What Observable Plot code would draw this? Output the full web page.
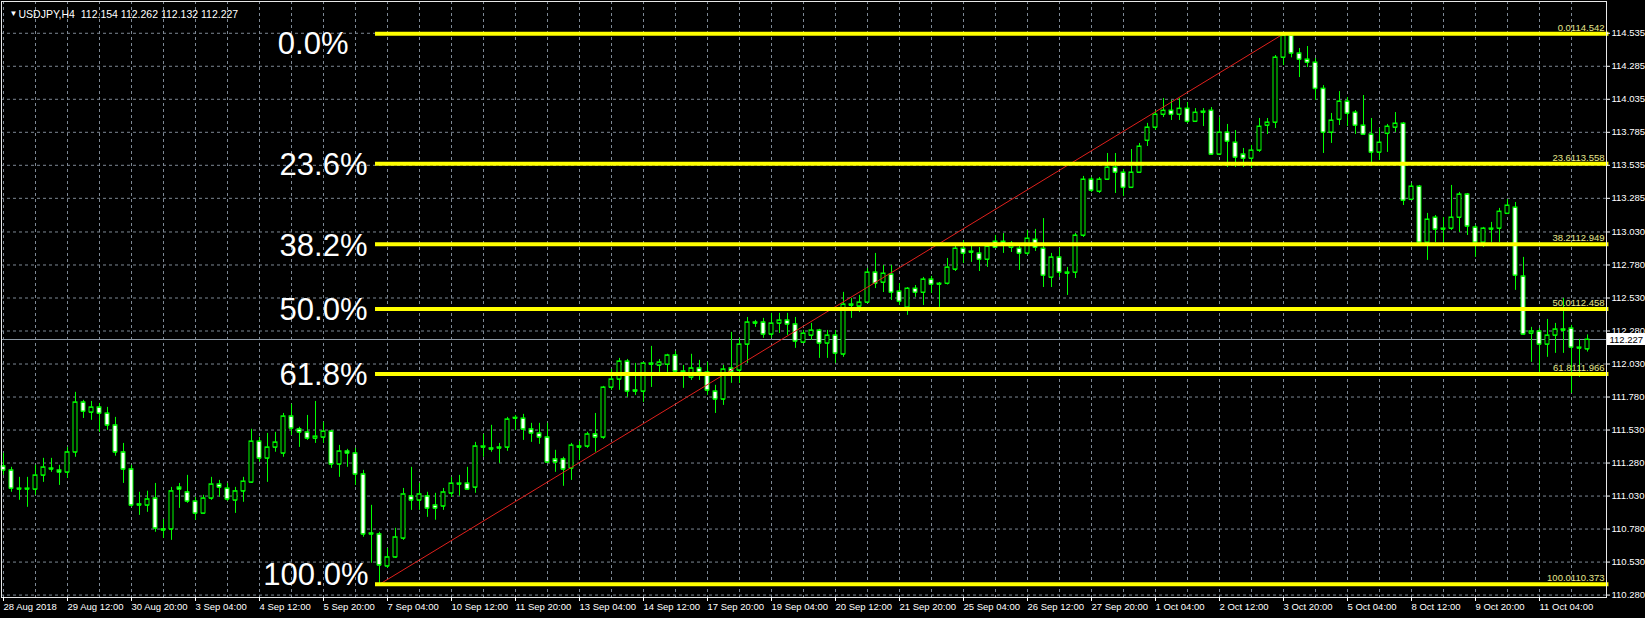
<!DOCTYPE html>
<html>
<head>
<meta charset="utf-8">
<script src="https://cdn.jsdelivr.net/npm/d3@7"></script>
<script src="https://cdn.jsdelivr.net/npm/@observablehq/plot@0.6"></script>
<style>
  html, body { margin: 0; padding: 0; background: #000; }
  #chart svg { display: block; }
</style>
</head>
<body>
<div id="chart"></div>
<script>
// USDJPY, 4-hour bars from 28 Aug 2018 to 12 Oct 2018
const symbol = "USDJPY,H4";

const opens = [
  111.267,111.236,111.099,111.092,111.092,111.198,111.251,111.236,111.221,111.373,
  111.751,111.675,111.713,111.667,111.577,111.373,111.244,110.979,110.971,111.024,
  110.790,110.790,111.107,111.070,111.001,110.910,111.024,111.130,111.099,111.009,
  111.078,111.145,111.455,111.327,111.410,111.365,111.645,111.547,111.524,111.478,
  111.486,111.531,111.282,111.380,111.365,111.206,110.759,110.752,110.510,110.578,
  110.721,111.040,111.009,111.040,110.971,110.964,111.062,111.137,111.137,111.107,
  111.410,111.403,111.410,111.410,111.629,111.629,111.547,111.516,111.486,111.320,
  111.320,111.251,111.418,111.418,111.509,111.486,111.864,111.925,112.061,111.842,
  111.834,112.046,112.031,112.038,112.107,111.986,111.940,112.009,111.978,111.834,
  111.774,112.009,111.993,112.190,112.357,112.357,112.266,112.349,112.372,112.342,
  112.205,112.258,112.296,112.198,112.258,112.115,112.493,112.478,112.508,112.735,
  112.659,112.720,112.591,112.470,112.613,112.583,112.682,112.651,112.651,112.758,
  112.916,112.886,112.879,112.833,112.969,112.969,112.924,112.916,112.879,112.984,
  112.916,112.697,112.849,112.735,112.735,113.015,113.439,113.348,113.439,113.530,
  113.492,113.378,113.492,113.734,113.833,113.931,113.961,113.931,113.976,113.878,
  113.954,113.961,113.629,113.795,113.719,113.629,113.598,113.659,113.848,113.871,
  114.363,114.529,114.394,114.348,114.325,114.127,113.795,113.893,114.030,113.946,
  113.848,113.780,113.644,113.787,113.833,113.863,113.287,113.386,112.962,113.151,
  113.061,113.068,113.151,113.326,113.076,112.962,113.068,113.068,113.181,113.227,
  112.705,112.273,112.289,112.190,112.258,112.304,112.311,112.160,112.154
];
const highs = [
  111.365,111.259,111.183,111.183,111.274,111.327,111.327,111.274,111.410,111.827,
  111.766,111.758,111.743,111.713,111.637,111.440,111.274,111.070,111.078,111.137,
  110.865,111.107,111.137,111.198,111.032,111.047,111.183,111.160,111.137,111.107,
  111.183,111.547,111.486,111.516,111.524,111.667,111.736,111.562,111.652,111.758,
  111.600,111.539,111.425,111.395,111.403,111.236,110.971,110.767,110.645,110.797,
  111.099,111.259,111.137,111.070,111.062,111.099,111.183,111.198,111.259,111.448,
  111.509,111.577,111.440,111.637,111.652,111.660,111.592,111.592,111.592,111.388,
  111.335,111.440,111.455,111.524,111.667,111.872,112.001,112.084,112.076,112.046,
  112.054,112.175,112.076,112.115,112.137,112.031,112.115,112.069,112.054,111.880,
  112.031,112.281,112.236,112.394,112.372,112.387,112.425,112.425,112.425,112.394,
  112.296,112.349,112.304,112.296,112.296,112.584,112.538,112.561,112.765,112.879,
  112.788,112.788,112.651,112.621,112.636,112.697,112.705,112.659,112.841,112.931,
  112.977,112.954,112.924,112.954,113.015,113.030,112.969,112.954,113.053,113.061,
  113.143,112.879,112.916,112.773,113.030,113.462,113.454,113.454,113.636,113.636,
  113.515,113.666,113.712,113.864,113.961,114.052,114.037,114.052,114.022,113.976,
  113.976,113.984,113.908,113.856,113.810,113.674,113.697,113.901,113.901,114.378,
  114.542,114.535,114.431,114.446,114.355,114.150,113.939,114.105,114.060,113.961,
  114.075,113.901,113.825,113.856,113.946,113.871,113.409,113.394,113.182,113.166,
  113.151,113.394,113.341,113.333,113.091,113.076,113.114,113.220,113.287,113.265,
  112.849,112.319,112.311,112.379,112.349,112.538,112.334,112.228,112.262
];
const lows = [
  111.198,111.070,111.009,110.956,111.047,111.145,111.221,111.122,111.175,111.335,
  111.629,111.615,111.524,111.539,111.343,111.137,110.956,110.895,110.918,110.767,
  110.721,110.706,110.948,110.986,110.858,110.903,111.009,111.032,111.001,110.910,
  110.994,111.137,111.297,111.145,111.373,111.335,111.501,111.410,111.463,111.440,
  111.440,111.251,111.183,111.259,111.122,110.729,110.532,110.373,110.494,110.570,
  110.706,110.933,110.933,110.880,110.858,110.933,111.032,111.040,111.085,111.062,
  111.335,111.373,111.289,111.380,111.539,111.463,111.448,111.433,111.289,111.221,
  111.115,111.160,111.312,111.403,111.373,111.471,111.842,111.842,111.789,111.804,
  111.751,111.864,111.978,111.978,111.955,111.857,111.917,111.917,111.804,111.667,
  111.728,111.895,111.895,112.046,112.319,112.236,112.236,112.273,112.258,112.160,
  112.198,112.220,112.084,112.084,112.046,112.092,112.387,112.432,112.500,112.613,
  112.583,112.523,112.485,112.410,112.546,112.485,112.576,112.470,112.640,112.742,
  112.803,112.811,112.742,112.773,112.916,112.879,112.886,112.750,112.864,112.894,
  112.621,112.621,112.697,112.561,112.689,113.000,113.341,113.333,113.431,113.333,
  113.310,113.371,113.485,113.689,113.810,113.908,113.886,113.886,113.863,113.871,
  113.840,113.621,113.621,113.530,113.530,113.530,113.522,113.644,113.780,113.825,
  114.302,114.360,114.211,114.287,114.037,113.636,113.712,113.848,113.840,113.780,
  113.772,113.568,113.583,113.644,113.795,113.242,113.280,112.954,112.826,112.962,
  112.962,113.053,113.038,113.015,112.849,112.924,112.962,112.962,113.174,112.599,
  112.258,112.054,111.978,112.092,112.122,112.122,111.819,111.940,112.132
];
const closes = [
  111.236,111.099,111.092,111.099,111.198,111.259,111.244,111.221,111.373,111.751,
  111.682,111.713,111.667,111.577,111.373,111.244,110.971,110.971,111.017,110.797,
  110.782,111.078,111.092,111.001,110.910,111.024,111.130,111.107,111.017,111.078,
  111.152,111.455,111.327,111.410,111.448,111.645,111.554,111.524,111.478,111.493,
  111.531,111.282,111.380,111.365,111.206,110.752,110.752,110.517,110.578,110.729,
  111.055,111.009,111.055,110.948,110.948,111.070,111.137,111.130,111.092,111.418,
  111.418,111.395,111.403,111.622,111.635,111.547,111.516,111.486,111.297,111.297,
  111.244,111.425,111.410,111.509,111.486,111.864,111.925,112.061,111.834,111.834,
  112.046,112.038,112.054,112.107,111.986,111.978,112.009,111.978,111.842,111.774,
  112.001,111.978,112.190,112.357,112.349,112.266,112.349,112.372,112.342,112.213,
  112.273,112.296,112.198,112.258,112.122,112.493,112.485,112.508,112.735,112.651,
  112.727,112.583,112.515,112.613,112.583,112.682,112.644,112.644,112.773,112.916,
  112.879,112.894,112.833,112.931,112.924,112.954,112.954,112.879,112.992,112.924,
  112.712,112.849,112.735,112.727,113.015,113.439,113.356,113.439,113.530,113.492,
  113.378,113.492,113.689,113.833,113.931,113.961,113.931,113.976,113.878,113.946,
  113.946,113.629,113.795,113.727,113.606,113.598,113.659,113.840,113.871,114.363,
  114.529,114.394,114.348,114.325,114.127,113.795,113.886,114.030,113.939,113.848,
  113.780,113.644,113.719,113.840,113.863,113.280,113.386,112.962,113.136,113.061,
  113.068,113.151,113.326,113.084,112.962,113.068,113.061,113.196,113.242,112.712,
  112.266,112.289,112.190,112.258,112.304,112.296,112.167,112.167,112.227
];

// one time label every 8 bars
const timeLabels = [
  "28 Aug 2018","29 Aug 12:00","30 Aug 20:00","3 Sep 04:00","4 Sep 12:00",
  "5 Sep 20:00","7 Sep 04:00","10 Sep 12:00","11 Sep 20:00","13 Sep 04:00",
  "14 Sep 12:00","17 Sep 20:00","19 Sep 04:00","20 Sep 12:00","21 Sep 20:00",
  "25 Sep 04:00","26 Sep 12:00","27 Sep 20:00","1 Oct 04:00","2 Oct 12:00",
  "3 Oct 20:00","5 Oct 04:00","8 Oct 12:00","9 Oct 20:00","11 Oct 04:00"
];
const priceTicks = [
  114.535,114.285,114.035,113.785,113.535,113.285,113.030,112.780,112.530,
  112.280,112.030,111.780,111.530,111.280,111.030,110.780,110.530,110.280
];

// Fibonacci retracement drawn from the swing low to the swing high
const fibRatios = [0.0, 23.6, 38.2, 50.0, 61.8, 100.0];
const swingLow = 110.373, swingLowBar = 47;
const swingHigh = 114.542, swingHighBar = 160;
const bid = 112.227;

const bars = opens.map((o, i) => ({
  i, o, h: highs[i], l: lows[i], c: closes[i], up: closes[i] >= o
}));
const fib = fibRatios.map(r => {
  const price = +(swingHigh - (r / 100) * (swingHigh - swingLow)).toFixed(3);
  return {r, price, pct: r.toFixed(1) + "%", tag: r.toFixed(1) + price.toFixed(3)};
});
const last = bars[bars.length - 1];
const header = `${symbol}\u00a0\u00a0${last.o.toFixed(3)} ${last.h.toFixed(3)} ${last.l.toFixed(3)} ${last.c.toFixed(3)}`;

const xMin = -0.25, xMax = 200.375;
const half = 0.25;           // half body width, in bars
const green = "#00ff00";
const gridColor = "#7d8894";
const font = "'Liberation Sans', Arial, sans-serif";

const chart = Plot.plot({
  width: 1645,
  height: 618,
  marginLeft: 1,
  marginTop: 1,
  marginRight: 39,
  marginBottom: 21,
  style: {background: "#000", color: "#fff", fontFamily: font},
  x: {domain: [xMin, xMax], axis: null},
  y: {domain: [110.273, 114.787], axis: null},
  marks: [
    // dashed grid
    Plot.ruleY(priceTicks, {stroke: gridColor, strokeDasharray: "3,3", dy: -1.5}),
    Plot.ruleX(d3.range(0, 197, 4), {stroke: gridColor, strokeDasharray: "3,3"}),
    // bid line
    Plot.ruleY([bid], {stroke: "#8f9aa6"}),
    // candles
    Plot.ruleX(bars, {x: "i", y1: "l", y2: "h", stroke: green}),
    Plot.rect(bars.filter(d => d.up), {x1: d => d.i - half, x2: d => d.i + half, y1: "o", y2: "c", fill: "#000", stroke: green}),
    Plot.rect(bars.filter(d => !d.up), {x1: d => d.i - half, x2: d => d.i + half, y1: "o", y2: "c", fill: "#fff", stroke: green}),
    Plot.ruleY(bars, {x1: d => d.i - half, x2: d => d.i + half, y: "o", stroke: green}),
    Plot.ruleY(bars, {x1: d => d.i - half, x2: d => d.i + half, y: "c", stroke: green}),
    // retracement trend line and levels
    Plot.link([{a: swingLowBar, b: swingHighBar}], {
      x1: "a", y1: () => swingLow, x2: "b", y2: () => swingHigh, stroke: "#e0201c", strokeWidth: 1
    }),
    Plot.ruleY(fib, {y: "price", x1: () => swingLowBar - 0.5, x2: () => xMax + 0.3, stroke: "#ffff00", strokeWidth: 4}),
    // level captions
    Plot.text(fib.filter(d => d.r === 0), {
      x: () => swingLowBar, y: "price", text: "pct", textAnchor: "end", dx: -31, dy: 10,
      fill: "#fff", fontSize: 31
    }),
    Plot.text(fib.filter(d => d.r > 0 && d.r < 100), {
      x: () => swingLowBar, y: "price", text: "pct", textAnchor: "end", dx: -12, dy: 1.5,
      fill: "#fff", fontSize: 31
    }),
    Plot.text(fib.filter(d => d.r === 100), {
      x: () => swingLowBar, y: "price", text: "pct", textAnchor: "end", dx: -11, dy: -9,
      fill: "#fff", fontSize: 31
    }),
    Plot.text(fib, {
      x: () => xMax, y: "price", text: "tag", textAnchor: "end", lineAnchor: "bottom",
      dx: -2, dy: -3, fill: "#e6e68c", fontSize: 9.5
    }),
    // frame and axes
    Plot.frame({stroke: "#e8e8e8"}),
    Plot.axisY(priceTicks, {
      anchor: "right", tickSize: 3, tickPadding: 2, tickFormat: d => d.toFixed(3),
      fontSize: 9.5, color: "#fff", label: null, dy: -1.5
    }),
    Plot.axisX(d3.range(0, timeLabels.length * 8, 8), {
      anchor: "bottom", tickSize: 4, tickPadding: 2, tickFormat: i => timeLabels[i / 8],
      textAnchor: "start", fontSize: 9.5, color: "#fff", label: null
    }),
    // current price tag
    Plot.rect([bid], {
      x1: () => xMax, x2: () => xMax, y1: d => d, y2: d => d,
      insetLeft: 1, insetRight: -39, insetTop: -6, insetBottom: -6, fill: "#fff"
    }),
    Plot.text([bid], {
      x: () => xMax, y: d => d, text: d => d.toFixed(3), textAnchor: "start", dx: 3,
      fill: "#000", fontSize: 9.5
    }),
    // symbol header
    Plot.text(["\u25BC"], {frameAnchor: "top-left", dx: 8, dy: 9, fill: "#fff", fontSize: 8, textAnchor: "start"}),
    Plot.text([header], {frameAnchor: "top-left", dx: 17, dy: 9, fill: "#fff", fontSize: 10.5, textAnchor: "start"})
  ]
});

document.getElementById("chart").appendChild(chart);
</script>
</body>
</html>
